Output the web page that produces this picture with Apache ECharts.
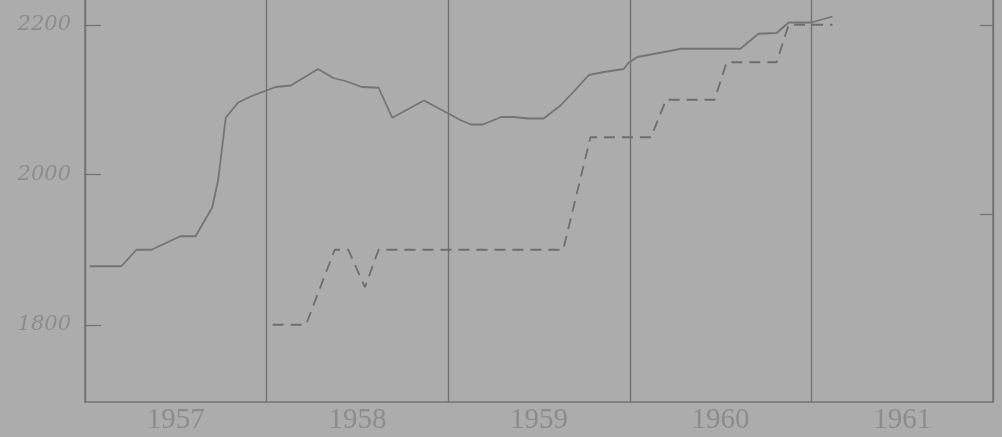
<!DOCTYPE html>
<html>
<head>
<meta charset="utf-8">
<script src="https://cdn.jsdelivr.net/npm/echarts@6.0.0/dist/echarts.min.js"></script>
<style>
  html, body { margin: 0; padding: 0; background: #acacac; }
  #chart { width: 1002px; height: 437px; }
</style>
</head>
<body>
<div id="chart"></div>
<script>
// x = months counted from Jan 1957
var yearLabels = ['1957', '1958', '1959', '1960', '1961'];
var leftTicks = [1800, 2000, 2200];
var rightTicks = [2200, 1947];

var solidMonths = [0.3, 2.4, 3.4, 4.4, 6.3, 7.3, 8.4, 8.8, 9.3, 10.1, 10.9, 11.8, 12.6, 13.6,
  15.4, 16.4, 17.2, 18.3, 19.4, 20.3, 22.4, 23.7, 24.8, 25.5, 26.3, 27.5, 28.3, 29.3, 30.3,
  31.4, 32.3, 33.3, 34.3, 35.6, 35.9, 36.5, 38.1, 39.4, 43.3, 44.5, 45.7, 46.5, 48.0, 49.4];
var solidValues = [1878, 1878, 1900, 1900, 1918, 1918, 1956, 1993, 2076, 2096, 2104, 2111, 2117, 2119,
  2141, 2129, 2125, 2117, 2116, 2076, 2099, 2085, 2073, 2067, 2067, 2077, 2077, 2075, 2075,
  2092, 2111, 2133, 2137, 2141, 2149, 2157, 2163, 2168, 2168, 2188, 2189, 2203, 2203, 2211];

var dashedMonths = [12.4, 14.6, 16.5, 17.4, 18.5, 19.4, 31.6, 33.4, 37.4, 38.4, 41.6, 42.4, 45.7, 46.5, 49.4];
var dashedValues = [1800, 1800, 1900, 1900, 1850, 1900, 1900, 2050, 2050, 2100, 2100, 2150, 2150, 2200, 2200];

function pairs(xs, ys) {
  return xs.map(function (x, i) { return [x, ys[i]]; });
}

var ink = '#737373';
var textInk = '#8c8c8c';

var chart = echarts.init(document.getElementById('chart'));
chart.setOption({
  backgroundColor: '#acacac',
  animation: false,
  grid: { left: 85, right: 9, top: 0, bottom: 35 },
  xAxis: [
    {
      type: 'value',
      min: 0,
      max: 60,
      interval: 12,
      axisLine: { show: true, lineStyle: { color: ink, width: 1.5 } },
      axisTick: { show: false },
      axisLabel: { show: false },
      splitLine: { show: true, lineStyle: { color: ink, width: 1.4 } }
    },
    {
      type: 'category',
      position: 'bottom',
      data: yearLabels,
      boundaryGap: true,
      axisLine: { show: false },
      axisTick: { show: false },
      axisLabel: {
        margin: 4,
        color: textInk,
        fontFamily: 'Liberation Serif',
        fontSize: 29
      }
    }
  ],
  yAxis: [
    {
      type: 'value',
      min: 1697,
      max: 2233,
      position: 'left',
      axisLine: { show: true, lineStyle: { color: ink, width: 1.5 } },
      axisTick: {
        show: true, inside: true, length: 16, customValues: leftTicks,
        lineStyle: { color: ink, width: 1.3 }
      },
      axisLabel: {
        customValues: leftTicks,
        formatter: function (v) { return String(v); },
        margin: 14,
        color: textInk,
        fontFamily: 'DejaVu Serif',
        fontStyle: 'italic',
        fontSize: 21
      },
      splitLine: { show: false }
    },
    {
      type: 'value',
      min: 1697,
      max: 2233,
      position: 'right',
      axisLine: { show: true, lineStyle: { color: ink, width: 1.5 } },
      axisTick: {
        show: true, inside: true, length: 13, customValues: rightTicks,
        lineStyle: { color: ink, width: 1.3 }
      },
      axisLabel: { show: false },
      splitLine: { show: false }
    }
  ],
  series: [
    {
      type: 'line',
      data: pairs(solidMonths, solidValues),
      showSymbol: false,
      lineStyle: { color: '#747474', width: 1.8 }
    },
    {
      type: 'line',
      data: pairs(dashedMonths, dashedValues),
      showSymbol: false,
      lineStyle: { color: '#6e6e6e', width: 1.8, type: [11, 7] }
    }
  ]
});
</script>
</body>
</html>
